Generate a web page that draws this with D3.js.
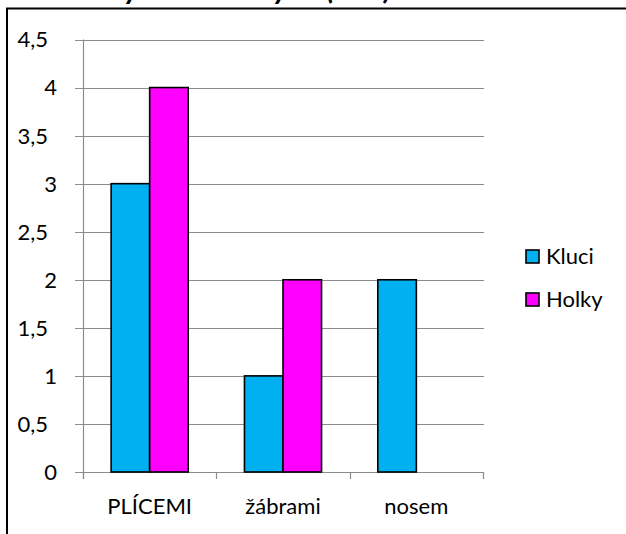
<!DOCTYPE html>
<html>
<head>
<meta charset="utf-8">
<script src="https://cdn.jsdelivr.net/npm/d3@7"></script>
<style>
  body { margin: 0; background: #fff; }
  svg { display: block; font-family: Lato, "Open Sans", sans-serif; }
</style>
</head>
<body>
<svg id="chart" width="626" height="534"></svg>
<script>
const title = "Čím dýchá velká ryba (žáci)";
const categories = ["PLÍCEMI", "žábrami", "nosem"];
const series = ["Kluci", "Holky"];
const kluci = [3, 1, 2];
const holky = [4, 2, 0];
const yTicks = [0, 0.5, 1, 1.5, 2, 2.5, 3, 3.5, 4, 4.5];
const colors = {Kluci: "#00b0f0", Holky: "#ff00ff"};

const svg = d3.select("#chart");
const margin = {top: 39.5, left: 83, right: 143, bottom: 62};
const width = 626, height = 534;

const x = d3.scaleBand().domain(categories).range([margin.left, width - margin.right]);
const xs = d3.scaleBand().domain(series).range([0, x.bandwidth()]).paddingOuter(0.73);
const y = d3.scaleLinear().domain([0, 4.5]).range([height - margin.bottom, margin.top]);

const fmt = function(d) { return String(d).replace(".", ","); };

// frame (chart area border, title sits above and is cut off)
svg.append("path")
    .attr("d", "M7,534V8.5H626")
    .attr("fill", "none")
    .attr("stroke", "#000")
    .attr("stroke-width", 2);

svg.append("text")
    .attr("x", 52)
    .attr("y", -1)
    .style("font-size", "30px")
    .style("font-weight", "bold")
    .style("font-style", "italic")
    .text(title);

// grid lines
svg.append("g").selectAll("line")
    .data(yTicks)
  .enter().append("line")
    .attr("x1", margin.left - 8)
    .attr("x2", width - margin.right + 1)
    .attr("y1", function(d) { return Math.round(y(d)) + 0.5; })
    .attr("y2", function(d) { return Math.round(y(d)) + 0.5; })
    .attr("stroke", "#8c8c8c")
    .attr("stroke-width", 1.2);

// y axis line
svg.append("line")
    .attr("x1", margin.left + 0.5).attr("x2", margin.left + 0.5)
    .attr("y1", y(4.5)).attr("y2", y(0) + 7)
    .attr("stroke", "#8c8c8c")
    .attr("stroke-width", 1.2);

// y labels
svg.append("g").selectAll("text")
    .data(yTicks)
  .enter().append("text")
    .attr("x", function(d) { return Number.isInteger(d) ? 57 : 48; })
    .attr("y", function(d) { return y(d); })
    .attr("dy", "0.36em")
    .attr("text-anchor", "end")
    .style("font-size", "22px")
    .text(fmt);

// x ticks
const xEdges = categories.map(function(c) { return x(c); }).concat([x(categories[2]) + x.bandwidth()]);
svg.append("g").selectAll("line")
    .data(xEdges)
  .enter().append("line")
    .attr("x1", function(d) { return Math.round(d) + 0.5; })
    .attr("x2", function(d) { return Math.round(d) + 0.5; })
    .attr("y1", y(0))
    .attr("y2", y(0) + 7)
    .attr("stroke", "#8c8c8c")
    .attr("stroke-width", 1.2);

// bars
const rows = categories.map(function(c, i) { return {cat: c, Kluci: kluci[i], Holky: holky[i]}; });
const group = svg.append("g").selectAll(".cat")
    .data(rows)
  .enter().append("g")
    .attr("class", "cat")
    .attr("transform", function(d) { return "translate(" + x(d.cat) + ",0)"; });

group.selectAll("rect")
    .data(function(d) { return series.map(function(s) { return {key: s, value: d[s]}; }).filter(function(v) { return v.value > 0; }); })
  .enter().append("rect")
    .attr("x", function(d) { return xs(d.key); })
    .attr("width", xs.bandwidth())
    .attr("y", function(d) { return y(d.value); })
    .attr("height", function(d) { return y(0) - y(d.value); })
    .attr("fill", function(d) { return colors[d.key]; })
    .attr("stroke", "#000")
    .attr("stroke-width", 1.6);

// x labels
svg.append("g").selectAll("text")
    .data(categories)
  .enter().append("text")
    .attr("x", function(d) { return x(d) + x.bandwidth() / 2; })
    .attr("y", 514)
    .attr("text-anchor", "middle")
    .style("font-size", "22px")
    .text(function(d) { return d; });

// legend
const legend = svg.append("g").selectAll(".legend")
    .data(series)
  .enter().append("g")
    .attr("class", "legend")
    .attr("transform", function(d, i) { return "translate(526," + (250 + i * 43) + ")"; });

legend.append("rect")
    .attr("width", 13)
    .attr("height", 13)
    .attr("fill", function(d) { return colors[d]; })
    .attr("stroke", "#000")
    .attr("stroke-width", 1.6);

legend.append("text")
    .attr("x", 20)
    .attr("y", 6.5)
    .attr("dy", "0.36em")
    .style("font-size", "22px")
    .text(function(d) { return d; });
</script>
</body>
</html>
